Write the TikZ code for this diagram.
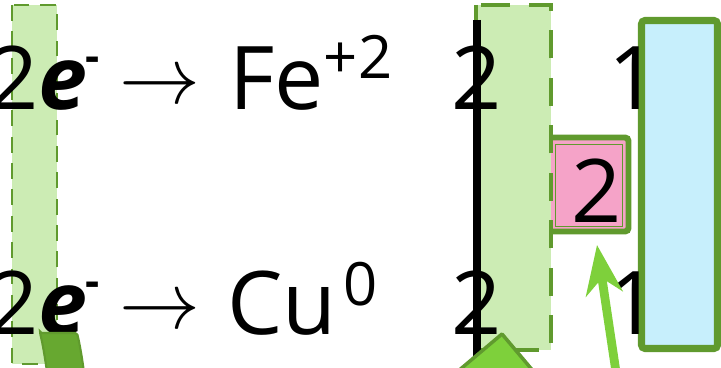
\RequirePackage{fix-cm}
\documentclass[tikz,border=0pt]{standalone}
\usepackage{fontspec}
\setmainfont{Open Sans}
\usetikzlibrary{arrows.meta}

\definecolor{paleGreen}{RGB}{204,236,180}
\definecolor{darkGreen}{RGB}{96,154,46}
\definecolor{midGreen}{RGB}{103,168,48}
\definecolor{brightGreen}{RGB}{126,208,59}
\definecolor{pinkFill}{RGB}{245,163,200}
\definecolor{blueFill}{RGB}{199,239,252}

\tikzset{
  big/.style={inner sep=0pt, anchor=base west, font=\fontsize{50}{50}\selectfont},
  arr/.style={inner sep=0pt, font=\fontsize{46}{46}\selectfont},
  band/.style={fill=paleGreen, draw=darkGreen, line width=1.5pt},
}

\newcommand{\elec}{2\textbf{\textit{e}}\kern-1pt\raisebox{22pt}{\fontsize{25}{25}\selectfont\bfseries -}}

\begin{document}
\begin{tikzpicture}[x=0.02cm,y=-0.02cm,>=stealth]
\useasboundingbox (0,0) rectangle (721,368);

% left column
\draw[band, dash pattern=on 9 off 6] (12,5) rectangle (57,364);
\node[big] (e1) at (-12,110) {\elec};
\node[big] (e2) at (-12,335) {\elec};
\node[arr] (r1) at (160,89) {$\rightarrow$};
\node[arr] (r2) at (160,314) {$\rightarrow$};
\node[big] (fe) at (229,110) {Fe\raisebox{18pt}{\fontsize{34}{34}\selectfont +2}};
\node[big] (cu) at (227,335) {Cu\kern4pt\raisebox{17pt}{\fontsize{34}{34}\selectfont 0}};

% right part
\draw[draw=darkGreen, fill=blueFill, line width=4pt, rounded corners=2pt] (641.5,20.5) rectangle (717.5,348.5);
\node[big] (o1) at (608,110) {1};
\node[big] (o2) at (608,335) {1};

\draw[draw=darkGreen, fill=pinkFill, line width=3.4pt, rounded corners=2pt] (545,137.5) rectangle (628.5,231.5);
\draw[draw=darkGreen, line width=0.8pt] (555.5,144.5) rectangle (622.5,226.5);
\node[big] (p) at (571,223) {2};

\draw[band, line width=2pt, dash pattern=on 16 off 11] (476,5) rectangle (551,350);
\node[big] (c1) at (451,110) {2};
\node[big] (c2) at (451,335) {2};
\coordinate (lt) at (477,20);
\coordinate (lb) at (477,372);
\draw[line width=4.5pt] (lt) -- (lb);

% bottom shapes
\draw[fill=brightGreen, draw=darkGreen, line width=2pt, line join=round] (502,334) -- (457,372) -- (534,372) -- cycle;
\draw[fill=midGreen, draw=darkGreen, line width=1.2pt, rounded corners=1pt] (40,333) -- (77,333) .. controls (80,345) and (82,358) .. (84,372) -- (47,372) .. controls (45,358) and (43,345) .. (40,333) -- cycle;

\coordinate (as) at (616,372);
\coordinate (ae) at (597,245);
\draw[brightGreen, line width=5pt, -{Stealth[length=28pt, width=21pt, inset=9pt]}] (as) -- (ae);
\end{tikzpicture}
\end{document}
